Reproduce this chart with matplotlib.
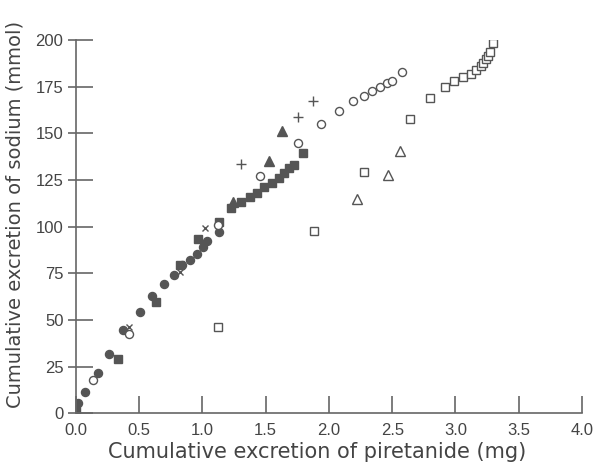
import matplotlib
matplotlib.use("Agg")
import matplotlib.pyplot as plt

# cumulative piretanide (mg) vs cumulative sodium (mmol), one series per subject/marker
filled_circle_x = [0.013, 0.071, 0.171, 0.258, 0.373, 0.505, 0.597, 0.697, 0.776, 0.842, 0.902, 0.955, 1.008, 1.032, 1.131]
filled_circle_y = [5.4, 11.5, 21.5, 31.6, 44.6, 54.4, 62.7, 69.6, 74.3, 79.5, 82.0, 85.4, 89.3, 92.4, 97.1]

filled_square_x = [0.0, 0.334, 0.631, 0.823, 0.968, 1.131, 1.229, 1.302, 1.376, 1.429, 1.486,
                   1.553, 1.605, 1.644, 1.684, 1.723, 1.797]
filled_square_y = [1.2, 29.3, 59.7, 79.5, 93.5, 102.3, 110.0, 113.0, 116.2, 118.1, 121.5,
                   123.3, 126.0, 128.7, 131.4, 133.1, 139.4]

filled_tri_x = [1.242, 1.526, 1.631]
filled_tri_y = [113.5, 135.4, 151.5]

open_circle_x = [0.137, 0.42, 1.126, 1.458, 1.755, 1.934, 2.076, 2.186, 2.276, 2.344, 2.407, 2.455, 2.50, 2.58]
open_circle_y = [18.0, 42.8, 100.7, 127.4, 144.8, 154.9, 161.9, 167.3, 170.2, 172.9, 175.0, 176.8, 177.9, 183.0]

open_square_x = [1.12, 1.88, 2.28, 2.64, 2.80, 2.915, 2.99, 3.057, 3.12, 3.16, 3.20, 3.22, 3.244, 3.26, 3.275, 3.30]
open_square_y = [46.2, 97.8, 129.3, 157.7, 169.0, 174.9, 177.9, 180.2, 181.9, 184.1, 186.1, 187.9, 189.9, 191.5, 193.5, 198.5]

open_tri_x = [2.22, 2.47, 2.56]
open_tri_y = [115.0, 127.6, 140.3]

plus_x = [1.305, 1.755, 1.876]
plus_y = [133.7, 159.0, 167.4]

cross_x = [0.42, 0.823, 1.021]
cross_y = [46.1, 75.6, 99.3]

plt.rcParams['font.family'] = ['Liberation Sans', 'DejaVu Sans']
dark = '#555555'
axis_col = '#666666'
text_col = '#444444'

fig = plt.figure(figsize=(5.95, 4.67), dpi=100)
ax = fig.add_axes([0.1277, 0.1146, 0.8504, 0.7997])

ms = 5.8
ax.plot(filled_circle_x, filled_circle_y, 'o', color=dark, ms=ms, mec=dark)
ax.plot(filled_square_x, filled_square_y, 's', color=dark, ms=ms, mec=dark)
ax.plot(filled_tri_x, filled_tri_y, '^', color=dark, ms=ms + 1, mec=dark)
ax.plot(open_circle_x, open_circle_y, 'o', mfc='white', mec=dark, ms=ms, mew=1.0)
ax.plot(open_square_x, open_square_y, 's', mfc='white', mec=dark, ms=ms, mew=1.0)
ax.plot(open_tri_x, open_tri_y, '^', mfc='white', mec=dark, ms=ms + 1, mew=1.0)
ax.plot(plus_x, plus_y, '+', color=dark, ms=ms + 1, mew=1.0)
ax.plot(cross_x, cross_y, 'x', color=dark, ms=ms - 1.5, mew=1.0)

ax.set_xlim(0, 4.0)
ax.set_ylim(0, 200)
xt = [0.0, 0.5, 1.0, 1.5, 2.0, 2.5, 3.0, 3.5, 4.0]
yt = [0, 25, 50, 75, 100, 125, 150, 175, 200]
ax.set_xticks(xt)
ax.set_xticklabels(['%.1f' % v for v in xt])
ax.set_yticks(yt)
# short outward stubs on the y axis as well (ticks cross the axis line)
ax.set_yticks(yt, minor=True)
ax.yaxis.remove_overlapping_locs = False

for side in ['top', 'right']:
    ax.spines[side].set_visible(False)
for side in ['left', 'bottom']:
    ax.spines[side].set_color(axis_col)
    ax.spines[side].set_linewidth(1.2)

ax.tick_params(which='major', direction='in', length=12, width=1.2, color=axis_col,
               labelsize=12, labelcolor=text_col)
ax.tick_params(axis='y', which='minor', direction='out', length=6, width=1.2, color=axis_col,
               labelleft=False)
ax.tick_params(axis='y', which='major', pad=9)
ax.tick_params(axis='x', which='major', pad=7)

ax.set_xlabel('Cumulative excretion of piretanide (mg)', fontsize=15, color=text_col,
              family='DejaVu Sans')
ax.set_ylabel('Cumulative excretion of sodium (mmol)', fontsize=14, color=text_col,
              family='DejaVu Sans')
ax.xaxis.set_label_coords(0.476, -0.076)
ax.yaxis.set_label_coords(-0.101, 0.534)

fig.savefig('out.png', dpi=100)
